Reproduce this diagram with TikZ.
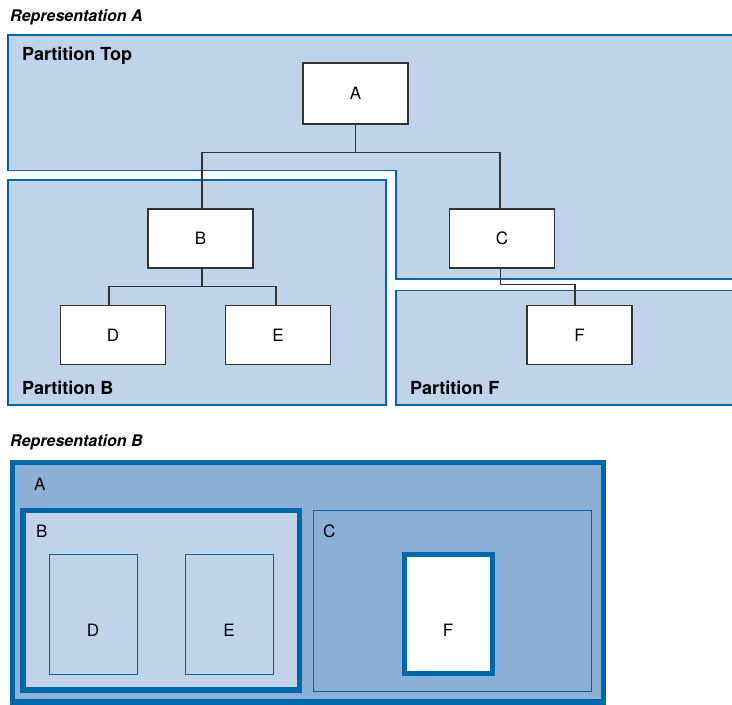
\documentclass[tikz,border=0pt]{standalone}
\usepackage{fontspec}
\setmainfont{TeX Gyre Heros}
\usetikzlibrary{calc}
\definecolor{partlight}{HTML}{C1D3E8}
\definecolor{partmid}{HTML}{8BAFD6}
\definecolor{partblue}{HTML}{0068A9}
\definecolor{boxline}{HTML}{333333}
\begin{document}
\begin{tikzpicture}[x=1pt, y=-1pt,
        part/.style={fill=partlight},
        partedge/.style={draw=partblue, line width=1.2pt},
        blk/.style={draw=boxline, fill=white, line width=1.3pt, minimum width=105pt, minimum height=59pt, inner sep=0pt, font=\fontsize{17}{20}\selectfont},
        link/.style={draw=boxline, line width=1.2pt},
        ptitle/.style={anchor=base west, inner sep=0pt, font=\fontsize{18}{21}\selectfont\bfseries},
        rtitle/.style={anchor=base west, inner sep=0pt, font=\fontsize{16}{19}\selectfont\bfseries\itshape},
        tag/.style={anchor=base west, inner sep=0pt, font=\fontsize{17}{20}\selectfont},
        mid tag/.style={inner sep=0pt, font=\fontsize{17}{20}\selectfont},
        inner/.style={draw=partblue, line width=1pt, minimum width=88pt, minimum height=120pt, inner sep=0pt},
        thick edge/.style={draw=partblue, line width=5.5pt},
        thin edge/.style={draw=partblue, line width=1pt}
      ]
        \useasboundingbox (0,0) rectangle (732,705);

        % Representation A
        \node[rtitle] (titleA) at (10,21.5) {Representation A};
        \fill[part] (8,35) -- (732,35) -- (732,279) -- (396,279) -- (396,170.5) -- (8,170.5) -- cycle;
        \draw[partedge] (732,35) -- (8,35) -- (8,170.5) -- (396,170.5) -- (396,279) -- (732,279);
        \fill[part] (8,180) rectangle (386,405);
        \draw[partedge] (8,180) rectangle (386,405);
        \fill[part] (396,290.5) rectangle (732,405);
        \draw[partedge] (732,290.5) -- (396,290.5) -- (396,405) -- (732,405);
        \node[ptitle] (ptop) at (22,60.5) {Partition Top};
        \node[ptitle] (pb) at (22,394) {Partition B};
        \node[ptitle] (pf) at (410,394) {Partition F};

        \foreach \n/\x/\y in {A/355.5/93.5, B/200.5/238.5, C/502/238.5, D/113/335, E/278/335, F/579.5/335} {
          \node[blk] (\n) at (\x,\y) {\n};
        }
        \node[blk, minimum height=61pt] at (A) {A};

        \draw[link] (A.south) -- ++(0,28.5) coordinate (ja);
        \draw[link] ([xshift=1.5pt]B.north) |- (ja) -| ([xshift=-2pt]C.north);
        \draw[link] ([xshift=1.5pt]B.south) -- ++(0,17.5) coordinate (jb);
        \draw[link] ([xshift=-4pt]D.north) |- (jb) -| ([xshift=-2pt]E.north);
        \draw[link] ([xshift=-1.5pt]C.south) -- ++(0,16) -| ([xshift=-4.5pt]F.north);

        % Representation B
        \node[rtitle] (titleB) at (10,446) {Representation B};
        \filldraw[fill=partmid, thick edge] (12.5,462.5) rectangle (603.5,702);
        \filldraw[fill=partlight, thick edge] (23,510.5) rectangle (299.5,690);
        \filldraw[fill=partmid, thin edge] (313,510.5) rectangle (591,691.5);
        \node[inner, fill=partlight] (bD) at (93,614) {};
        \node[inner, fill=partlight] (bE) at (229,614) {};
        \node[inner, fill=white, line width=5pt, minimum height=119.5pt] (bF) at (448,614.2) {};
        \node[mid tag] (tD) at ([yshift=-16pt]bD.center) {D};
        \node[mid tag] (tE) at ([yshift=-16pt]bE.center) {E};
        \node[mid tag] (tF) at ([yshift=-16pt]bF.center) {F};
        \node[tag] (bA) at (34,490.5) {A};
        \node[tag] (bB) at (36,537.5) {B};
        \node[tag] (bC) at (323,537.5) {C};
      \end{tikzpicture}
\end{document}
